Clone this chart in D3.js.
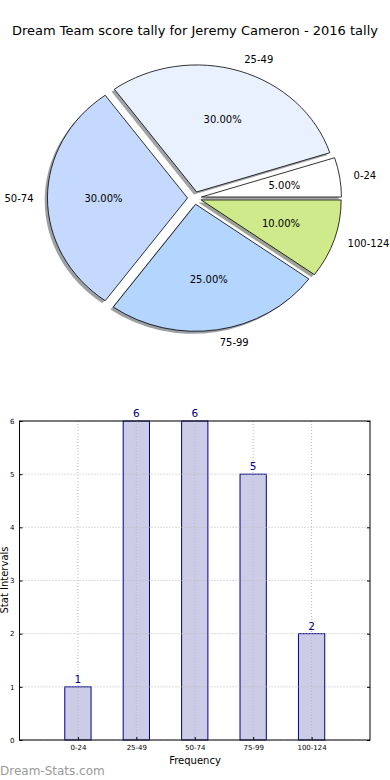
<!DOCTYPE html>
<html><head><meta charset="utf-8">
<script src="https://cdn.jsdelivr.net/npm/d3@7"></script>
<style>body{margin:0;background:#fff}svg{display:block;font-family:"DejaVu Sans",sans-serif}</style>
</head><body>
<svg id="c" width="390" height="780"></svg>
<script>
const categories = ["0-24","25-49","50-74","75-99","100-124"];
const counts = [1,6,6,5,2];
const pieColors = ["#ffffff","#e9f1ff","#c5d9fe","#b4d5fe","#cfea8b"];
const yTicks = [0,1,2,3,4,5,6];
const title = "Dream Team score tally for Jeremy Cameron - 2016 tally";

const svg = d3.select("#c");
svg.append("text").attr("x",195).attr("y",35).attr("text-anchor","middle")
  .attr("font-size",13).attr("fill","#000").text(title);

// ---- Pie (elliptical, matplotlib-style: start at 0°, counter-clockwise) ----
const cx=194.5, cy=198, rx=140, ry=127, explode=0.05;
const total = d3.sum(counts);
const pie = d3.pie().sort(null).value(d=>d)
  .startAngle(Math.PI/2).endAngle(Math.PI/2 - 2*Math.PI);
const arcs = pie(counts);
const arcGen = d3.arc().innerRadius(0).outerRadius(1);
function midMath(a){ const m=(a.startAngle+a.endAngle)/2; return Math.PI/2 - m; }
const gPie = svg.append("g");
function wedgeTransform(a, ox, oy){
  const t = midMath(a);
  const dx = explode*rx*Math.cos(t), dy = -explode*ry*Math.sin(t);
  return `translate(${cx+dx+ox},${cy+dy+oy}) scale(${rx},${ry})`;
}
const shade = c => { const r=d3.rgb(c); return d3.rgb(r.r*0.3,r.g*0.3,r.b*0.3).toString(); };
gPie.selectAll("path.sh").data(arcs).enter().append("path").attr("class","sh")
  .attr("d",arcGen).attr("transform",a=>wedgeTransform(a,-2.8,2.5))
  .attr("fill",(a,i)=>shade(pieColors[i])).attr("fill-opacity",0.5);
gPie.selectAll("path.w").data(arcs).enter().append("path").attr("class","w")
  .attr("d",arcGen).attr("transform",a=>wedgeTransform(a,0,0))
  .attr("fill",(a,i)=>pieColors[i]).attr("stroke","#000")
  .attr("stroke-width",0.8).attr("vector-effect","non-scaling-stroke");
arcs.forEach((a,i)=>{
  const t = midMath(a);
  const ex = cx + explode*rx*Math.cos(t), ey = cy - explode*ry*Math.sin(t);
  gPie.append("text").attr("x",ex+0.6*rx*Math.cos(t)).attr("y",ey-0.6*ry*Math.sin(t))
    .attr("text-anchor","middle").attr("dominant-baseline","central")
    .attr("font-size",10).text((a.value/total*100).toFixed(2)+"%");
  const lx = ex+1.1*rx*Math.cos(t), ly = ey-1.1*ry*Math.sin(t);
  gPie.append("text").attr("x",lx).attr("y",ly)
    .attr("text-anchor", Math.cos(t)>0?"start":"end").attr("dominant-baseline","central")
    .attr("font-size",10).text(categories[i]);
});

// ---- Bar chart ----
const L=19.5, R=370, T=421, B=740;
const x = d3.scaleLinear().domain([-1,5]).range([L,R]);
const y = d3.scaleLinear().domain([0,6]).range([B,T]);
const bw = x(0.45)-x(0);
const gb = svg.append("g");
gb.selectAll("rect.bar").data(counts).enter().append("rect")
  .attr("x",(d,i)=>x(i)-bw/2).attr("y",d=>y(d)).attr("width",bw).attr("height",d=>y(0)-y(d))
  .attr("fill","#cccce6").attr("stroke","#000088").attr("stroke-width",1);
gb.selectAll("line.gx").data(categories).enter().append("line")
  .attr("x1",(d,i)=>x(i)).attr("x2",(d,i)=>x(i)).attr("y1",T).attr("y2",B)
  .attr("stroke","#b8b8b8").attr("stroke-dasharray","1,2");
gb.selectAll("line.gy").data(yTicks).enter().append("line")
  .attr("x1",L).attr("x2",R).attr("y1",d=>y(d)).attr("y2",d=>y(d))
  .attr("stroke","#b8b8b8").attr("stroke-dasharray","1,2");
gb.append("rect").attr("x",L).attr("y",T).attr("width",R-L).attr("height",B-T)
  .attr("fill","none").attr("stroke","#000").attr("stroke-width",1);
const yAxis = d3.axisLeft(y).tickValues(yTicks).tickSize(-3).tickPadding(5).tickFormat(d3.format("d"));
const ya = gb.append("g").attr("transform",`translate(${L},0)`).call(yAxis);
ya.select(".domain").remove();
ya.selectAll("text").attr("font-size",7).attr("font-family","DejaVu Sans");
const yAxisR = d3.axisRight(y).tickValues(yTicks).tickSize(-3).tickFormat("");
const yr = gb.append("g").attr("transform",`translate(${R},0)`).call(yAxisR);
yr.select(".domain").remove();
const xAxis = d3.axisBottom(x).tickValues(d3.range(categories.length)).tickSize(-3).tickPadding(5)
  .tickFormat(i=>categories[i]);
const xa = gb.append("g").attr("transform",`translate(0,${B})`).call(xAxis);
xa.select(".domain").remove();
xa.selectAll("text").attr("font-size",7).attr("font-family","DejaVu Sans");
gb.selectAll("text.v").data(counts).enter().append("text")
  .attr("x",(d,i)=>x(i)).attr("y",d=>y(d)-4).attr("text-anchor","middle")
  .attr("font-size",10.5).attr("fill","#000080").text(d=>d);
svg.append("text").attr("x",195).attr("y",764).attr("text-anchor","middle")
  .attr("font-size",10).text("Frequency");
svg.append("text").attr("transform","translate(8,580) rotate(-90)").attr("text-anchor","middle")
  .attr("font-size",10).text("Stat Intervals");
svg.append("text").attr("x",0).attr("y",775).attr("font-size",12)
  .attr("fill","#9a9a9a").text("Dream-Stats.com");
</script>
</body></html>
